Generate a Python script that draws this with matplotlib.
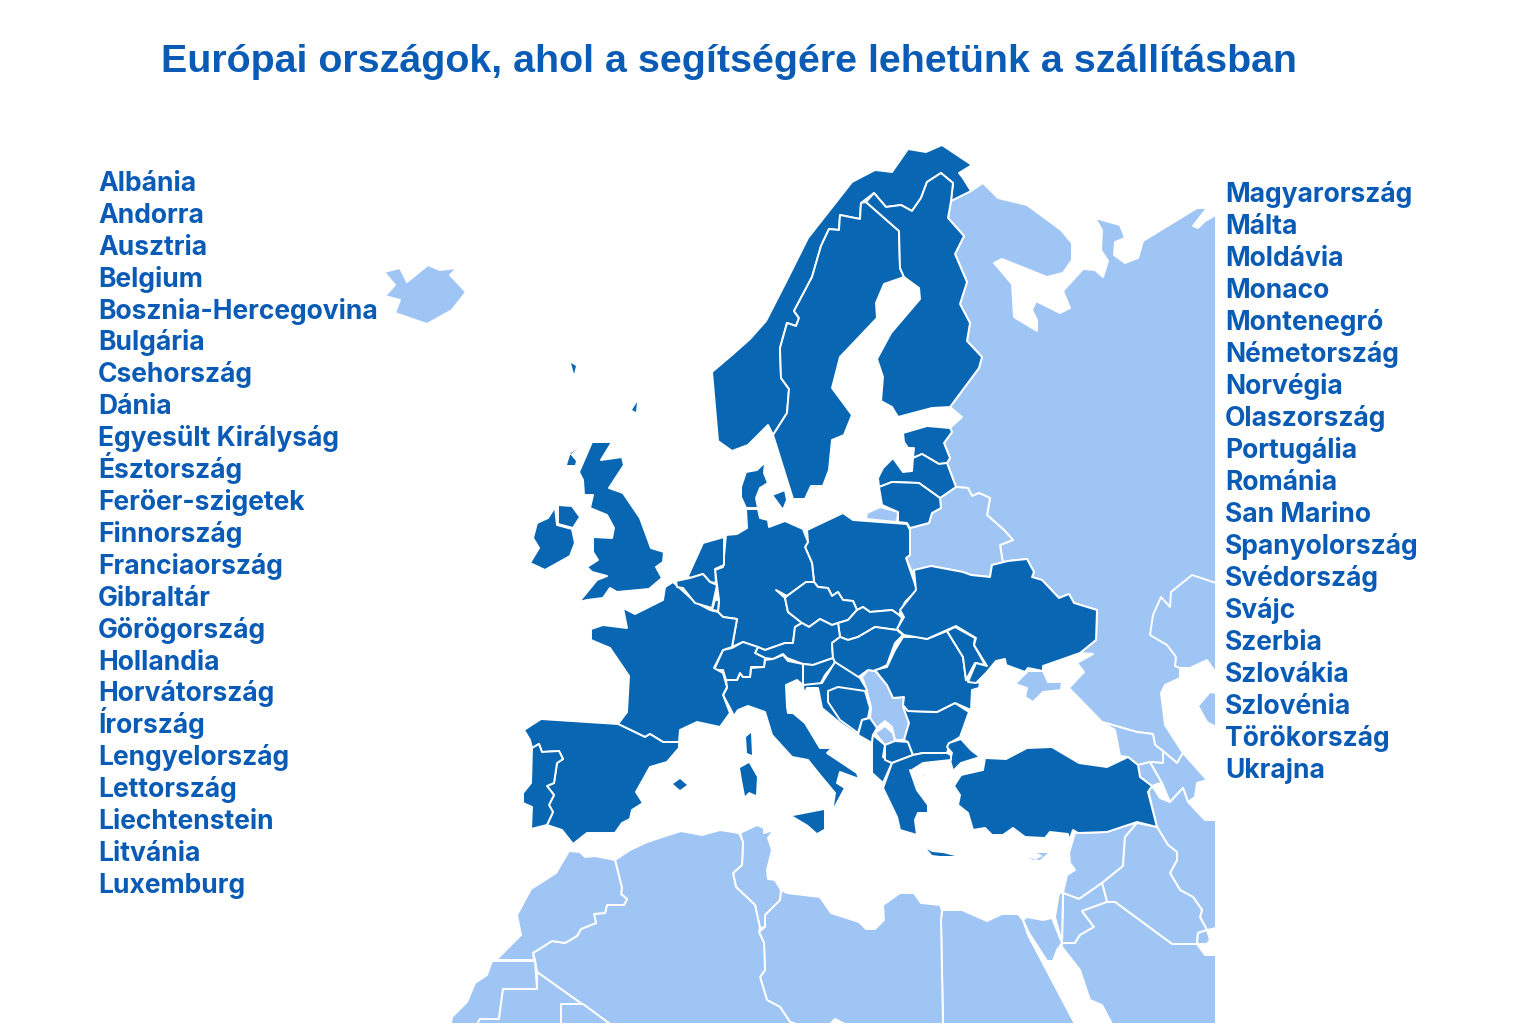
import matplotlib
matplotlib.use('Agg')
import matplotlib.pyplot as plt

DARK = '#0866B3'
LIGHT = '#9FC5F4'
TEXT = '#0A5BB5'

title = 'Európai országok, ahol a segítségére lehetünk a szállításban'

left_names = ['Albánia', 'Andorra', 'Ausztria', 'Belgium', 'Bosznia-Hercegovina', 'Bulgária',
              'Csehország', 'Dánia', 'Egyesült Királyság', 'Észtország', 'Feröer-szigetek',
              'Finnország', 'Franciaország', 'Gibraltár', 'Görögország', 'Hollandia',
              'Horvátország', 'Írország', 'Lengyelország', 'Lettország', 'Liechtenstein',
              'Litvánia', 'Luxemburg']
right_names = ['Magyarország', 'Málta', 'Moldávia', 'Monaco', 'Montenegró', 'Németország',
               'Norvégia', 'Olaszország', 'Portugália', 'Románia', 'San Marino', 'Spanyolország',
               'Svédország', 'Svájc', 'Szerbia', 'Szlovákia', 'Szlovénia', 'Törökország', 'Ukrajna']

# country outlines in pixels
iceland = [(384,272),(400,268),(407,282),(428,265),(440,270),(457,268),(450,275),(466,292),(452,310),(427,324),(395,313),(400,300),(385,296),(395,285)]
russia = [(951,201),(971,191),(983,183),(998,198),(1027,205),(1061,230),(1072,243),(1072,260),(1063,273),(1047,277),(1002,259),(994,263),(1012,284),(1014,317),(1037,331),(1037,320),(1032,310),(1036,301),(1060,313),(1070,308),(1063,291),(1083,269),(1095,270),(1103,277),(1108,261),(1101,250),(1102,230),(1095,218),(1120,225),(1125,238),(1115,242),(1114,255),(1125,263),(1138,258),(1143,241),(1197,208),(1207,208),(1193,226),(1198,228),(1205,221),(1216,215),(1216,673),(1207,660),(1190,668),(1180,668),(1180,678),(1165,685),(1161,693),(1165,725),(1183,753),(1177,763),(1163,751),(1155,745),(1153,734),(1137,732),(1102,722),(1069,688),(1084,672),(1077,663),(1093,654),(1080,653),(1096,640),(1097,610),(1074,603),(1069,594),(1059,598),(1042,580),(1032,577),(1034,572),(1027,559),(1008,561),(992,565),(1003,563),(1000,545),(1013,540),(1004,530),(987,515),(990,498),(979,493),(972,496),(968,488),(956,487),(947,463),(950,458),(944,443),(952,432),(950,428),(962,417),(950,407),(979,368),(982,357),(967,341),(970,323),(960,304),(967,282),(955,254),(964,236),(948,218)]
kazakhstan = [(1216,583),(1192,575),(1171,592),(1170,607),(1161,597),(1153,615),(1150,635),(1167,645),(1176,657),(1175,666),(1180,668),(1190,668),(1207,660),(1216,673)]
caspian_shore = [(1216,727),(1207,722),(1198,706),(1210,692),(1216,693)]
belarus = [(956,487),(968,488),(972,496),(979,493),(990,498),(987,515),(1004,530),(1013,540),(1000,545),(1003,563),(992,565),(990,577),(971,575),(963,572),(931,566),(912,572),(906,558),(910,555),(910,530),(907,524),(910,528),(929,523),(932,513),(941,508),(940,498)]
kaliningrad = [(880,507),(898,512),(897,522),(866,519),(867,513)]
crimea = [(1015,684),(1028,671),(1043,671),(1048,682),(1062,682),(1061,690),(1043,692),(1033,702),(1025,697),(1027,688)]
georgia = [(1102,722),(1137,732),(1153,734),(1155,745),(1163,751),(1163,763),(1150,762),(1138,765),(1128,757),(1120,756),(1115,730)]
armenia = [(1138,765),(1150,762),(1162,783),(1157,784),(1152,786),(1140,777)]
azerbaijan = [(1150,762),(1163,763),(1163,751),(1177,763),(1183,753),(1207,780),(1197,783),(1195,797),(1188,802),(1183,788),(1170,802),(1162,783)]
iran = [(1148,790),(1153,787),(1160,798),(1170,802),(1183,788),(1188,802),(1205,820),(1216,820),(1216,928),(1207,930),(1200,917),(1202,910),(1193,897),(1180,890),(1170,873),(1177,860),(1177,852),(1168,845),(1157,827)]
syria = [(1069,853),(1075,833),(1107,832),(1120,827),(1137,823),(1125,837),(1123,866),(1102,883),(1079,899),(1063,893),(1067,875),(1075,870),(1070,863)]
iraq = [(1137,823),(1157,827),(1168,845),(1177,852),(1177,860),(1170,873),(1180,890),(1193,897),(1202,910),(1200,917),(1207,930),(1198,933),(1197,944),(1172,944),(1115,902),(1107,902),(1102,883),(1123,866),(1125,837)]
jordan = [(1063,893),(1079,899),(1102,883),(1107,902),(1082,911),(1094,927),(1080,935),(1075,943),(1062,943)]
israel = [(1059,893),(1063,893),(1062,943),(1055,917)]
saudi = [(1062,947),(1062,943),(1075,943),(1080,935),(1094,927),(1082,911),(1107,902),(1115,902),(1172,944),(1197,944),(1205,955),(1216,955),(1216,1024),(1112,1024),(1102,1005),(1090,1000),(1080,970)]
kuwait = [(1197,944),(1198,933),(1207,930),(1210,940),(1207,944)]
egypt = [(945,910),(962,910),(987,921),(1002,914),(1018,914),(1023,920),(1028,935),(1075,1024),(943,1024),(941,920),(942,910)]
sinai = [(1023,920),(1027,917),(1043,920),(1052,918),(1062,943),(1057,950),(1053,961),(1047,961),(1029,933)]
libya = [(781,890),(787,893),(820,897),(831,913),(859,922),(866,929),(875,929),(884,920),(883,905),(900,893),(914,893),(921,903),(940,905),(942,910),(941,920),(943,1024),(845,1024),(835,1019),(830,1024),(796,1024),(790,1022),(780,1007),(767,1000),(760,977),(765,970),(764,943),(759,932),(765,927),(765,915),(780,900)]
tunisia = [(740,833),(757,825),(764,828),(764,833),(774,830),(768,838),(772,850),(767,870),(768,879),(775,880),(781,890),(780,900),(765,915),(765,927),(760,928),(755,905),(736,887),(733,873),(742,865),(743,842)]
algeria = [(615,860),(630,850),(647,842),(681,831),(702,835),(720,830),(739,833),(743,842),(742,865),(733,873),(736,887),(755,905),(760,928),(759,932),(764,943),(765,970),(760,977),(767,1000),(780,1007),(790,1022),(796,1024),(610,1024),(537,972),(535,960),(533,953),(552,941),(565,943),(577,936),(581,929),(596,923),(594,914),(605,913),(607,905),(624,905),(627,899),(621,894),(622,888)]
morocco = [(569,851),(580,852),(585,857),(595,856),(615,860),(622,888),(621,894),(627,899),(624,905),(607,905),(605,913),(594,914),(596,923),(581,929),(577,936),(565,943),(552,941),(533,953),(534,960),(496,960),(521,935),(517,915),(531,889),(556,873)]
w_sahara = [(492,961),(535,961),(537,989),(503,989),(499,1019),(480,1019),(477,1024),(451,1024),(452,1017),(467,1002),(475,983),(487,975)]
mauritania = [(537,972),(610,1024),(477,1024),(480,1019),(499,1019),(503,989),(537,989)]
mali = [(561,1004),(583,1004),(610,1024),(561,1024)]
cyprus = [(1028,858),(1040,860),(1048,853),(1037,853),(1043,856),(1034,860)]
serbia = [(862,677),(868,670),(875,671),(887,685),(893,698),(904,697),(903,705),(909,723),(904,740),(895,740),(892,727),(885,721),(877,728),(870,718),(871,708),(866,688)]
kosovo = [(875,733),(885,726),(893,733),(895,741),(885,745)]

norway = [(712,372),(732,355),(750,339),(766,321),(787,280),(808,238),(830,210),(852,182),(875,170),(892,172),(908,149),(926,152),(942,145),(972,165),(959,173),(963,178),(971,191),(951,201),(953,183),(941,173),(927,182),(921,198),(912,211),(901,205),(886,207),(874,193),(861,203),(860,219),(840,215),(839,230),(829,229),(821,246),(812,277),(794,311),(799,318),(796,326),(787,323),(780,348),(781,378),(789,389),(787,413),(773,435),(768,425),(748,445),(732,451),(718,441)]
sweden = [(861,203),(860,219),(840,215),(839,230),(829,229),(821,246),(812,277),(794,311),(799,318),(796,326),(787,323),(780,348),(781,378),(789,389),(787,413),(773,435),(774,438),(793,499),(805,499),(811,486),(823,486),(829,470),(832,440),(844,435),(852,415),(832,388),(840,357),(877,318),(876,303),(884,284),(904,277),(900,268),(899,231),(866,202)]
finland = [(866,202),(874,193),(886,207),(901,205),(912,211),(921,198),(927,182),(941,173),(953,183),(951,201),(948,218),(964,236),(955,254),(967,282),(960,304),(970,323),(967,341),(982,357),(979,368),(950,407),(932,408),(898,417),(892,407),(881,401),(883,377),(877,359),(891,333),(920,299),(919,288),(904,277),(900,268),(899,231)]
estonia = [(903,433),(927,426),(950,428),(952,432),(944,443),(950,458),(947,463),(939,464),(922,454),(913,458),(914,448),(908,448),(904,442)]
latvia = [(879,487),(878,478),(883,468),(893,458),(903,472),(912,471),(913,458),(922,454),(939,464),(947,463),(956,487),(940,498),(919,483),(892,482)]
lithuania = [(879,487),(892,482),(919,483),(940,498),(941,508),(932,513),(929,523),(910,528),(907,523),(898,522),(898,512),(882,505),(880,493)]
poland = [(807,530),(843,513),(853,520),(907,524),(910,530),(910,555),(906,558),(917,590),(905,602),(899,615),(892,610),(870,612),(863,607),(857,610),(853,601),(843,600),(838,592),(832,596),(828,588),(818,587),(814,582),(812,563),(805,547),(808,542)]
germany = [(746,509),(758,509),(760,518),(768,520),(769,527),(785,521),(803,529),(808,542),(805,547),(812,563),(814,582),(806,582),(787,596),(776,590),(785,598),(788,612),(802,623),(795,627),(793,643),(785,643),(765,650),(757,647),(743,642),(732,647),(737,619),(723,617),(718,612),(719,600),(717,585),(715,570),(723,567),(726,535),(737,534),(747,528)]
czechia = [(787,596),(806,582),(814,582),(818,587),(828,588),(832,596),(838,592),(843,600),(853,601),(857,610),(848,620),(838,623),(832,625),(820,619),(809,627),(802,623),(788,612),(785,598)]
slovakia = [(857,610),(863,607),(870,612),(892,610),(899,615),(902,618),(897,630),(875,627),(858,637),(848,640),(840,637),(838,623),(848,620)]
austria = [(802,623),(809,627),(820,619),(832,625),(838,623),(840,637),(832,643),(833,658),(813,665),(803,664),(787,658),(783,654),(773,659),(765,658),(755,653),(758,647),(765,650),(785,643),(793,643),(795,627)]
hungary = [(840,637),(848,640),(858,637),(875,627),(897,630),(903,635),(895,643),(887,665),(875,671),(868,670),(857,678),(835,663),(833,658),(832,643)]
slovenia = [(803,664),(813,665),(833,658),(835,663),(825,675),(820,685),(803,685)]
croatia = [(803,685),(822,683),(835,662),(860,678),(866,688),(871,708),(869,718),(862,720),(858,735),(840,723),(822,708),(818,688),(807,688),(804,694)]
bosnia = [(828,691),(838,687),(865,691),(870,708),(868,718),(862,720),(858,733),(840,720),(828,702)]
montenegro = [(862,720),(870,718),(877,728),(873,735),(872,743),(858,735)]
albania = [(873,735),(885,745),(883,757),(892,763),(883,783),(872,773),(872,743)]
macedonia = [(885,745),(895,741),(908,742),(913,755),(892,763),(885,760)]
bulgaria = [(903,707),(908,711),(937,712),(955,703),(969,712),(960,737),(950,743),(947,753),(923,753),(913,755),(908,742),(904,740),(909,723)]
romania = [(875,670),(887,667),(895,650),(903,637),(918,637),(927,639),(947,631),(963,657),(966,680),(980,683),(979,688),(972,690),(971,710),(955,703),(937,712),(908,711),(903,705),(904,697),(893,698),(887,685)]
moldova = [(947,631),(955,627),(975,638),(974,645),(985,665),(975,663),(966,680),(963,657)]
ukraine = [(914,570),(931,566),(963,572),(971,575),(990,577),(992,565),(1008,561),(1027,559),(1034,572),(1032,577),(1042,580),(1059,598),(1069,594),(1074,603),(1097,610),(1096,640),(1080,653),(1043,666),(1043,671),(1028,668),(1025,672),(1006,665),(1005,659),(996,661),(986,673),(976,683),(968,682),(976,663),(987,666),(974,645),(976,638),(956,626),(927,639),(904,635),(897,629),(904,617),(900,610),(916,590)]
turkey = [(985,758),(1006,759),(1027,748),(1052,747),(1079,763),(1107,767),(1128,757),(1138,765),(1140,777),(1152,786),(1148,792),(1157,827),(1137,822),(1107,832),(1078,833),(1073,830),(1069,841),(1068,834),(1050,832),(1045,838),(1025,837),(1013,828),(1003,835),(992,835),(985,828),(973,830),(968,813),(958,805),(960,795),(954,786),(961,775),(983,770)]
turkey_eu = [(949,743),(961,739),(971,750),(980,757),(961,763),(953,771),(950,760),(952,753),(947,747)]
greece = [(892,763),(913,755),(923,753),(947,753),(951,755),(951,760),(923,763),(912,770),(920,777),(927,773),(925,777),(918,777),(910,770),(917,790),(928,805),(928,813),(918,813),(915,820),(917,835),(900,830),(897,817),(883,788)]
crete = [(927,849),(932,852),(943,853),(955,856),(940,856),(932,855)]
italy = [(726,680),(737,680),(740,673),(743,677),(750,677),(751,668),(764,667),(765,660),(773,659),(783,655),(788,661),(803,664),(803,685),(797,680),(786,685),(787,707),(788,713),(793,713),(805,723),(820,748),(832,748),(827,753),(857,773),(859,779),(840,772),(837,783),(845,788),(832,812),(835,793),(820,775),(808,760),(792,757),(772,735),(765,712),(748,706),(738,710),(734,716),(730,708),(723,695),(727,688)]
switzerland = [(714,670),(723,650),(732,648),(743,642),(758,647),(755,653),(765,658),(764,667),(751,667),(750,677),(743,677),(740,673),(737,680),(726,680),(723,670)]
france = [(663,600),(665,587),(673,582),(695,602),(710,610),(718,612),(723,617),(737,619),(732,647),(723,650),(714,668),(723,673),(727,687),(723,695),(730,713),(720,727),(697,722),(680,730),(679,742),(663,742),(650,734),(645,737),(618,724),(627,712),(629,676),(610,648),(591,640),(591,629),(603,625),(627,628),(623,608),(635,614)]
spain = [(524,730),(541,719),(618,724),(645,737),(650,734),(663,742),(679,742),(679,748),(667,762),(650,767),(636,792),(643,803),(632,810),(630,819),(622,823),(615,833),(587,833),(573,844),(562,830),(547,825),(553,812),(549,805),(554,795),(547,786),(554,783),(557,763),(563,759),(559,751),(542,752),(539,744),(532,748),(530,740)]
portugal = [(532,748),(539,744),(542,752),(559,751),(563,759),(557,763),(554,783),(547,786),(554,795),(549,805),(553,812),(547,825),(531,829),(532,807),(523,803),(523,793),(531,783)]
mallorca = [(673,784),(680,779),(687,785),(680,790)]
corsica = [(746,737),(751,733),(752,755),(747,753)]
sardinia = [(740,768),(749,763),(757,777),(756,795),(749,792),(745,796),(742,780)]
sicily = [(793,816),(824,810),(824,829),(817,833),(808,825)]
netherlands = [(688,576),(703,543),(724,537),(724,565),(715,569),(716,583),(710,582),(703,574),(690,578)]
belgium = [(676,581),(690,578),(703,574),(710,582),(717,585),(712,608),(695,603),(683,588),(677,587)]
luxembourg = [(715,600),(719,600),(718,611),(712,610)]
britain = [(592,442),(612,442),(601,460),(622,457),(624,465),(609,488),(623,493),(640,518),(651,548),(664,552),(663,562),(656,567),(662,578),(649,589),(617,592),(610,588),(603,598),(587,600),(579,602),(597,580),(607,576),(592,572),(587,567),(598,560),(593,552),(593,537),(612,538),(614,528),(607,515),(590,508),(593,495),(584,495),(583,480),(579,472)]
n_ireland = [(558,505),(572,506),(580,517),(573,528),(558,524)]
ireland = [(555,507),(557,525),(572,529),(575,543),(570,556),(545,570),(530,563),(539,548),(533,538),(537,523),(548,518)]
denmark = [(741,487),(746,472),(757,470),(765,462),(764,473),(768,483),(760,488),(756,498),(758,508),(746,508),(741,497)]
zealand = [(772,495),(785,490),(787,500),(783,510)]
hebrides = [(567,465),(570,455),(578,448),(570,454),(576,461),(575,465)]
faroe = [(571,363),(576,366),(574,374)]
shetland = [(632,410),(637,402),(636,412)]

light_shapes = [iceland, russia, kazakhstan, caspian_shore, belarus, kaliningrad, crimea, georgia,
                armenia, azerbaijan, iran, syria, iraq, jordan, israel, saudi, kuwait, egypt, sinai,
                libya, tunisia, algeria, morocco, w_sahara, mauritania, mali, serbia, kosovo]
dark_shapes = [norway, sweden, finland, estonia, latvia, lithuania, poland, germany, czechia, slovakia,
               austria, hungary, slovenia, croatia, bosnia, montenegro, albania, macedonia, bulgaria,
               romania, moldova, ukraine, turkey, turkey_eu, greece, italy, switzerland, france,
               spain, portugal, netherlands, belgium, luxembourg,
               britain, n_ireland, ireland, denmark, zealand]
# small islands get no white edge, it would eat them
light_islands = [cyprus]
dark_islands = [crete, mallorca, corsica, sardinia, sicily, hebrides, faroe, shetland]

fig = plt.figure(figsize=(15.36, 10.24), dpi=100)
ax = fig.add_axes([0, 0, 1, 1])
ax.set_xlim(0, 1536)
ax.set_ylim(1024, 0)
ax.axis('off')

for shape in light_shapes:
    xs, ys = zip(*shape)
    ax.fill(xs, ys, facecolor=LIGHT, edgecolor='white', linewidth=1.4, joinstyle='round')
for shape in dark_shapes:
    xs, ys = zip(*shape)
    ax.fill(xs, ys, facecolor=DARK, edgecolor='white', linewidth=1.4, joinstyle='round')
for shape in light_islands:
    xs, ys = zip(*shape)
    ax.fill(xs, ys, facecolor=LIGHT, linewidth=0)
for shape in dark_islands:
    xs, ys = zip(*shape)
    ax.fill(xs, ys, facecolor=DARK, linewidth=0)

ax.text(161, 72, title, color=TEXT, fontsize=28.35, fontweight='bold',
        family='Liberation Sans', ha='left', va='baseline')

for i, name in enumerate(left_names):
    ax.text(98, 191 + i * 31.9, name, color=TEXT, fontsize=19.05, fontweight='bold',
            family='Inter', ha='left', va='baseline')
for i, name in enumerate(right_names):
    ax.text(1225, 202 + i * 32, name, color=TEXT, fontsize=19.05, fontweight='bold',
            family='Inter', ha='left', va='baseline')

fig.savefig('out.png', dpi=100)
